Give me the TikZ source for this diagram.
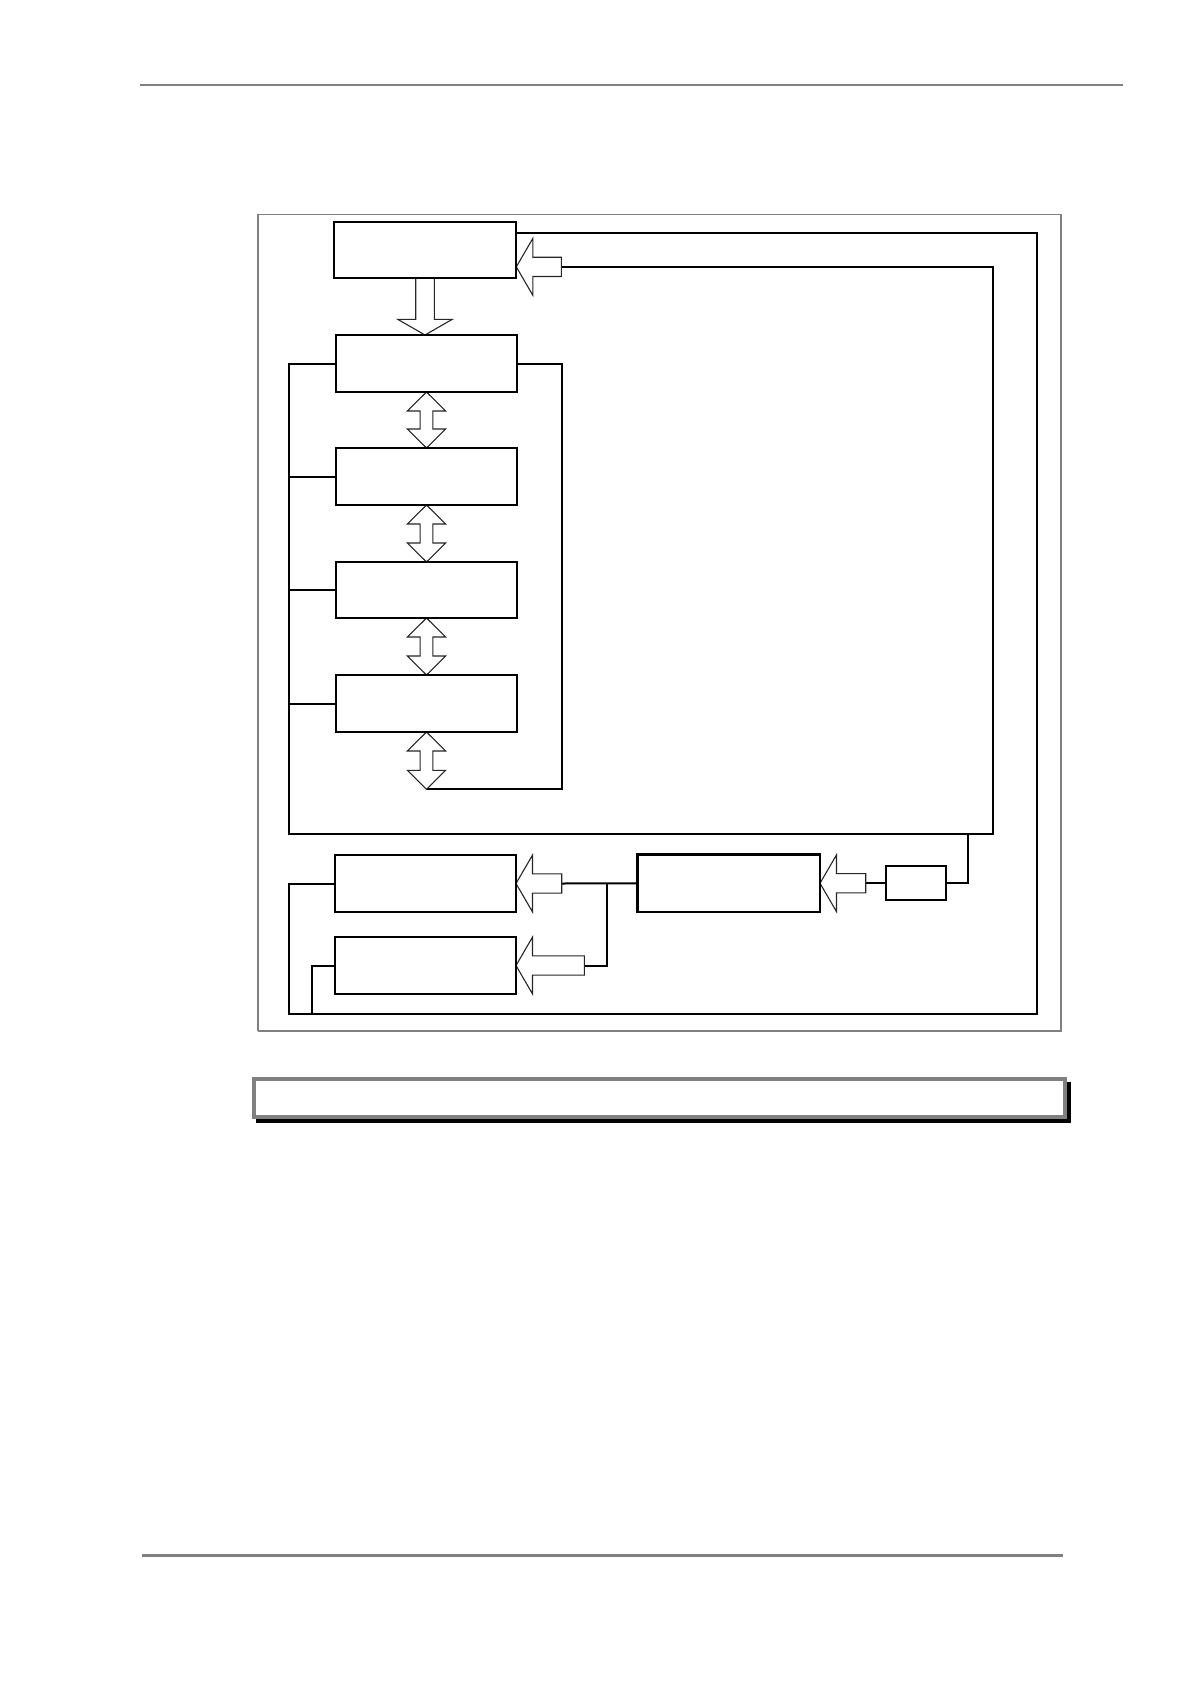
\documentclass[tikz,border=0pt]{standalone}
\usetikzlibrary{calc,backgrounds}
\definecolor{rulegray}{RGB}{128,128,128}
\tikzset{
  box/.style={draw=black, line width=2.2pt, fill=white, rectangle, inner sep=0pt, outer sep=0pt},
  conn/.style={draw=black, line width=2pt},
  fatarrow/.style={draw=black!85, line width=1.1pt, fill=white, line join=miter},
  pagerule/.style={draw=rulegray, line width=2.7pt},
}
\newcommand{\fatleft}[2]{%
  \draw[fatarrow] (#1) -- ++(16.5,-28.4) -- ++(0,18.8) -- ++({#2-16.5},0) -- ++(0,19.2)
     -- ++({16.5-#2},0) -- ++(0,18.8) -- cycle;}
\newcommand{\fatdouble}[2]{%
  \draw[fatarrow] (#1) -- ++(19.15,19) -- ++(-12.8,0) -- ++(0,{#2-38}) -- ++(12.8,0)
     -- ++(-19.15,19) -- ++(-19.15,-19) -- ++(12.8,0) -- ++(0,{38-#2}) -- ++(-12.8,0) -- cycle;}
\begin{document}
\begin{tikzpicture}[x=1pt,y=-1pt]
\useasboundingbox (0,0) rectangle (1191,1684);

% page rules
\draw[pagerule] (140,85) -- (1123,85);
\draw[pagerule] (142,1555.3) -- (1063,1555.3);

% frame
\draw[draw=rulegray, line width=1.2pt] (258,214.3) rectangle (1061,1030.7);
\draw[draw=rulegray, line width=2pt] (1061,214.3) -- (1061,1030.7) -- (258,1030.7);

% boxes
\node[box, minimum width=182.6pt, minimum height=56.3pt] (b1) at (425,249.85) {};
\node[box, minimum width=181pt, minimum height=57pt] (b2) at (426.5,363.5) {};
\node[box, minimum width=181pt, minimum height=57pt] (b3) at (426.5,476.5) {};
\node[box, minimum width=181pt, minimum height=56pt] (b4) at (426.5,590) {};
\node[box, minimum width=181pt, minimum height=57pt] (b5) at (426.5,703.5) {};
\node[box, minimum width=181pt, minimum height=57pt] (b6) at (425.5,883.5) {};
\node[box, minimum width=181pt, minimum height=57pt] (b7) at (425.5,965.5) {};
\node[box, minimum width=182.5pt, minimum height=57.5pt] (b8) at (728.75,883.25) {};
\node[box, minimum width=60pt, minimum height=34pt] (b9) at (916,883.25) {};

% named points
\coordinate (t1) at ($(b1.east)+(0,17)$);
\coordinate (a1end) at ($(t1)+(45,0)$);
\coordinate (a6end) at ($(b6.east)+(45.7,0)$);
\coordinate (a7end) at ($(b7.east)+(68.3,0)$);
\coordinate (a8end) at ($(b8.east)+(45.7,0)$);
\coordinate (busTL) at (289,363.5);
\coordinate (busBL) at (289,833.7);
\coordinate (busBR) at (993,833.7);
\coordinate (busTR) at (a1end -| busBR);
\coordinate (rbT) at (562.3,363.5);
\coordinate (rbB) at (562.3,789.3);
\coordinate (dtip) at (426.5,789.3);
\coordinate (o1) at ($(b1.north east)+(0,11)$);
\coordinate (o2) at ($(o1)+(520.7,0)$);
\coordinate (o3) at (1037,1013.7);
\coordinate (o4) at (289,1013.7);
\coordinate (o5) at (289,883.5);
\coordinate (o6) at (311.7,1013.7);
\coordinate (o7) at (311.7,965.5);
\coordinate (j1) at (607.3,883.25);
\coordinate (j2) at (607.3,965.5);
\coordinate (s1) at (968.3,883.25);
\coordinate (s2) at (968.3,833.7);
\coordinate (dn) at (b1.south);

\begin{pgfonlayer}{background}
% connectors
\draw[conn] (b2.west) -- (busTL) -- (busBL) -- (busBR) -- (busTR) -- (a1end);
\draw[conn] (b3.west) -- (b3.west -| busTL);
\draw[conn] (b4.west) -- (b4.west -| busTL);
\draw[conn] (b5.west) -- (b5.west -| busTL);
\draw[conn] (b2.east) -- (rbT) -- (rbB) -- (dtip);
\draw[conn] (o1) -- (o2) -- (o2 |- o3) -- (o4) -- (o5) -- (b6.west);
\draw[conn] (o6) -- (o7) -- (b7.west);
\draw[conn] (b8.west) -- (a6end);
\draw[conn] (j1) -- (j2) -- (a7end);
\draw[conn] (b9.east) -- (s1) -- (s2);
\draw[conn] (b9.west) -- (a8end);

% hollow arrows
\draw[fatarrow] (dn) ++(-9.3,0) -- ++(0,41.3) -- ++(-18,0) -- ++(27.3,15.7) -- ++(27.3,-15.7) -- ++(-18,0) -- ++(0,-41.3);
\fatdouble{b2.south}{56}
\fatdouble{b3.south}{57}
\fatdouble{b4.south}{57}
\fatdouble{b5.south}{57.3}
\fatleft{t1}{45}
\fatleft{b6.east}{45.7}
\fatleft{b7.east}{68.3}
\fatleft{b8.east}{45.7}
\end{pgfonlayer}

% caption box with shadow
\fill[black] (256,1082) rectangle (1071,1123.3);
\draw[draw=rulegray, line width=4pt, fill=white] (254,1079) rectangle (1065,1116.7);
\end{tikzpicture}
\end{document}
